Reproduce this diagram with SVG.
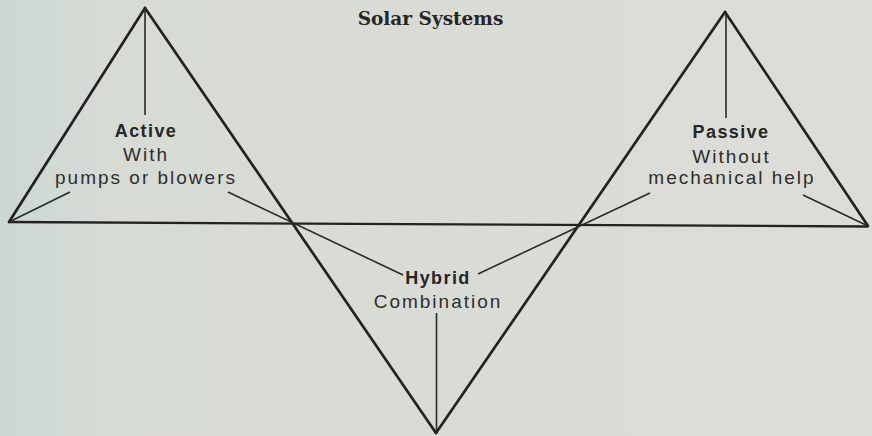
<svg xmlns="http://www.w3.org/2000/svg" width="872" height="436" viewBox="0 0 872 436">
  <defs>
    <linearGradient id="bg" x1="0" y1="0" x2="1" y2="0">
      <stop offset="0" stop-color="#cbd8d2"/>
      <stop offset="0.12" stop-color="#d6dbd4"/>
      <stop offset="1" stop-color="#dcddd6"/>
    </linearGradient>
    <style>
      .side { stroke: #222; stroke-width: 2.7; fill: none; stroke-linecap: round; }
      .base { stroke: #222; stroke-width: 2.3; fill: none; }
      .spoke { stroke: #2a2a2a; stroke-width: 1.6; fill: none; }
      .h { font-family: "Liberation Sans", Arial, sans-serif; font-weight: bold; font-size: 18px; letter-spacing: 1.4px; fill: #262626; text-anchor: middle; }
      .t { font-family: "Liberation Sans", Arial, sans-serif; font-size: 19px; letter-spacing: 2px; fill: #2e2e2e; text-anchor: middle; }
      .title { font-family: "DejaVu Serif", "Liberation Serif", serif; font-weight: bold; font-size: 18.5px; fill: #262626; text-anchor: middle; }
    </style>
  </defs>
  <rect x="0" y="0" width="872" height="436" fill="url(#bg)"/>

  <g id="frame">
    <line class="base" x1="9" y1="222" x2="868" y2="226.5"/>
    <line class="side" x1="145" y1="8" x2="9" y2="222"/>
    <line class="side" x1="145" y1="8" x2="436" y2="433"/>
    <line class="side" x1="725" y1="12" x2="436" y2="433"/>
    <line class="side" x1="725" y1="12" x2="868" y2="226"/>
  </g>

  <g id="connectors">
    <line class="spoke" x1="145" y1="8" x2="145" y2="115"/>
    <line class="spoke" x1="9" y1="222" x2="70" y2="192"/>
    <line class="spoke" x1="228" y1="192" x2="403" y2="275"/>
    <line class="spoke" x1="726" y1="12" x2="726" y2="118"/>
    <line class="spoke" x1="650" y1="193" x2="478" y2="274"/>
    <line class="spoke" x1="803" y1="195" x2="868" y2="226"/>
    <line class="spoke" x1="436.5" y1="313" x2="436.5" y2="433"/>
  </g>

  <g id="title">
    <text class="title" x="430.5" y="25">Solar Systems</text>
  </g>

  <g id="active">
    <text class="h" x="146" y="137">Active</text>
    <text class="t" x="146" y="161">With</text>
    <text class="t" x="146" y="184">pumps or blowers</text>
  </g>

  <g id="passive">
    <text class="h" x="731" y="138">Passive</text>
    <text class="t" x="731.5" y="163">Without</text>
    <text class="t" x="732" y="184">mechanical help</text>
  </g>

  <g id="hybrid">
    <text class="h" x="438" y="284">Hybrid</text>
    <text class="t" x="438" y="308">Combination</text>
  </g>
</svg>
